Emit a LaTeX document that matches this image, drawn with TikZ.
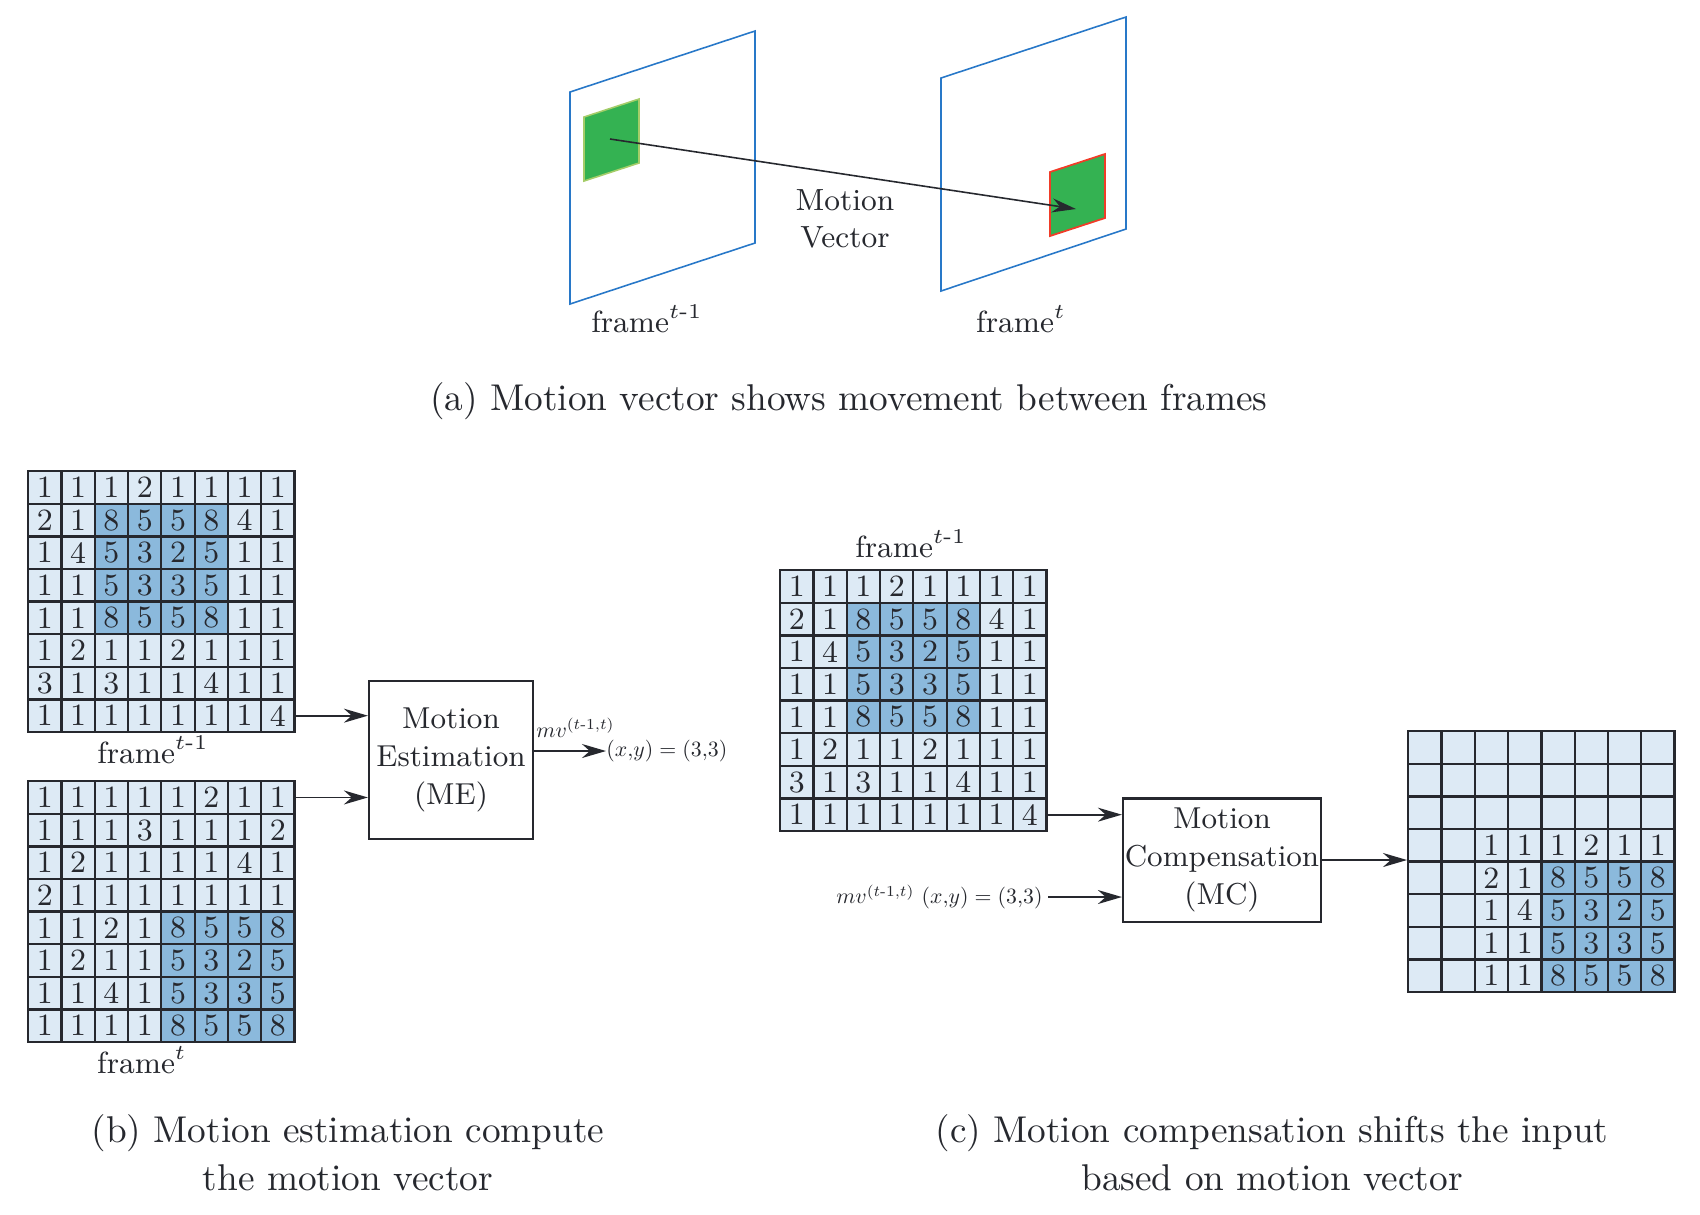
\documentclass[tikz,border=0pt]{standalone}
\usepackage{amsmath}
\usepackage{xcolor}
\usetikzlibrary{arrows.meta,positioning}

\definecolor{ink}{RGB}{38,40,46}
\definecolor{frameblue}{RGB}{40,120,200}
\definecolor{blockgreen}{RGB}{52,178,82}
\definecolor{blockedge}{RGB}{165,205,105}
\definecolor{shiftred}{RGB}{240,60,40}
\definecolor{lightcell}{RGB}{221,234,245}
\definecolor{darkcell}{RGB}{139,185,220}

% #1 name, #2 #3 top left, #4-#7 shaded rows/cols, #8 rows (0 = empty)
\newcommand{\pixgrid}[8]{%
  \foreach \row [count=\ri] in {#8} {
    \foreach \val [count=\ci] in \row {
      \pgfmathtruncatemacro{\dk}{(\ri>=#4)&&(\ri<=#5)&&(\ci>=#6)&&(\ci<=#7)}
      \ifnum\dk=1 \def\cellfill{darkcell}\else\def\cellfill{lightcell}\fi
      \node[pixcell,fill=\cellfill] (#1-\ri-\ci) at ({#2+(\ci-1)*33.3},{#3+(\ri-1)*32.6}) {\ifnum\val=0 \else\val\fi};
    }
  }
}

\begin{document}
\begin{tikzpicture}[x=0.01cm,y=-0.01cm]
        \tikzstyle{pixcell}=[draw=ink, line width=0.65pt, minimum width=0.333cm, minimum height=0.326cm, inner sep=0, anchor=north west, text=ink, font=\fontsize{8.8}{10}\selectfont]
        \tikzstyle{proc}=[draw=ink, line width=0.6pt, inner sep=0, align=center, text=ink, font=\fontsize{8.6}{10.8}\selectfont]
        \tikzstyle{connect}=[-{Stealth[length=2.4mm,width=1.4mm]}, line width=0.55pt, draw=ink]
        \tikzstyle{lbl}=[inner sep=0, text=ink, font=\fontsize{8.7}{10.5}\selectfont]
        \tikzstyle{mathlbl}=[inner sep=0, text=ink, scale=0.62]
        \tikzstyle{capt}=[inner sep=0, align=center, text=ink, font=\fontsize{10.6}{13.6}\selectfont]
        \tikzstyle{frm}=[draw=frameblue, line width=0.45pt]
        \useasboundingbox (0,0) rectangle (1700,1214);
        % (a) frames and motion vector
        \draw[frm] (570,92) -- (755,31) -- (755,243) -- (570,304) -- cycle;
        \draw[frm] (941,78) -- (1126,17) -- (1126,229) -- (941,291) -- cycle;
        \filldraw[fill=blockgreen, draw=blockedge, line width=0.45pt] (584,117) -- (639,99) -- (639,163) -- (584,181) -- cycle;
        \filldraw[fill=blockgreen, draw=shiftred, line width=0.5pt] (1050,172) -- (1105,154) -- (1105,218) -- (1050,236) -- cycle;
        \coordinate (src) at (610,139);
        \coordinate (dst) at (1076,209);
        \draw[connect, line width=0.45pt] (src) -- (dst);
        \node[lbl, align=center] (mvtxt) at (845,219) {Motion\\Vector};
        \node[lbl, anchor=base] (fa) at (647,332) {frame$^{t\text{-}1}$};
        \node[lbl, anchor=base] (fb) at (1021,332) {frame$^{t}$};
        \node[capt, anchor=base] (capa) at (849,410) {(a) Motion vector shows movement between frames};
        % (b) motion estimation
        \pixgrid{ga}{27}{470}{2}{5}{3}{6}{{1,1,1,2,1,1,1,1},{2,1,8,5,5,8,4,1},{1,4,5,3,2,5,1,1},{1,1,5,3,3,5,1,1},{1,1,8,5,5,8,1,1},{1,2,1,1,2,1,1,1},{3,1,3,1,1,4,1,1},{1,1,1,1,1,1,1,4}}
        \node[lbl, anchor=base] (gal) at (153,763) {frame$^{t\text{-}1}$};
        \pixgrid{gb}{27}{780}{5}{8}{5}{8}{{1,1,1,1,1,2,1,1},{1,1,1,3,1,1,1,2},{1,2,1,1,1,1,4,1},{2,1,1,1,1,1,1,1},{1,1,2,1,8,5,5,8},{1,2,1,1,5,3,2,5},{1,1,4,1,5,3,3,5},{1,1,1,1,8,5,5,8}}
        \node[lbl, anchor=base] (gbl) at (142,1073) {frame$^{t}$};
        \node[proc, minimum width=1.64cm, minimum height=1.58cm] (me) at (451,760) {Motion\\Estimation\\(ME)};
        \draw[connect] (ga-8-8.east) -- (ga-8-8.east -| me.west);
        \draw[connect] (gb-1-8.east) -- (gb-1-8.east -| me.west);
        \node[mathlbl, anchor=west] (mvxy) at (606,751) {$(x{,}y) = (3{,}3)$};
        \draw[connect] (mvxy.west -| me.east) -- (mvxy.west);
        \node[mathlbl, anchor=south west] (mvname) at (536,738) {$mv^{(t\text{-}1,t)}$};
        % (c) motion compensation
        \node[lbl, anchor=base] (gcl) at (911,557) {frame$^{t\text{-}1}$};
        \pixgrid{gc}{779}{569}{2}{5}{3}{6}{{1,1,1,2,1,1,1,1},{2,1,8,5,5,8,4,1},{1,4,5,3,2,5,1,1},{1,1,5,3,3,5,1,1},{1,1,8,5,5,8,1,1},{1,2,1,1,2,1,1,1},{3,1,3,1,1,4,1,1},{1,1,1,1,1,1,1,4}}
        \node[proc, minimum width=1.98cm, minimum height=1.23cm] (mc) at (1222,860) {Motion\\Compensation\\(MC)};
        \draw[connect] (gc-8-8.east) -- (gc-8-8.east -| mc.west);
        \node[mathlbl, anchor=east] (mvin) at (1043,897) {$mv^{(t\text{-}1,t)}\ (x{,}y) = (3{,}3)$};
        \draw[connect] ([xshift=0.5mm]mvin.east) -- (mvin.east -| mc.west);
        \pixgrid{gd}{1407}{730}{5}{8}{5}{8}{{0,0,0,0,0,0,0,0},{0,0,0,0,0,0,0,0},{0,0,0,0,0,0,0,0},{0,0,1,1,1,2,1,1},{0,0,2,1,8,5,5,8},{0,0,1,4,5,3,2,5},{0,0,1,1,5,3,3,5},{0,0,1,1,8,5,5,8}}
        \draw[connect] (mc.east) -- (mc.east -| gd-5-1.west);
        % captions
        \node[capt, anchor=north] (capb) at (348,1114) {(b) Motion estimation compute\\the motion vector};
        \node[capt, anchor=north] (capc) at (1272,1114) {(c) Motion compensation shifts the input\\based on motion vector};
\end{tikzpicture}
\end{document}
